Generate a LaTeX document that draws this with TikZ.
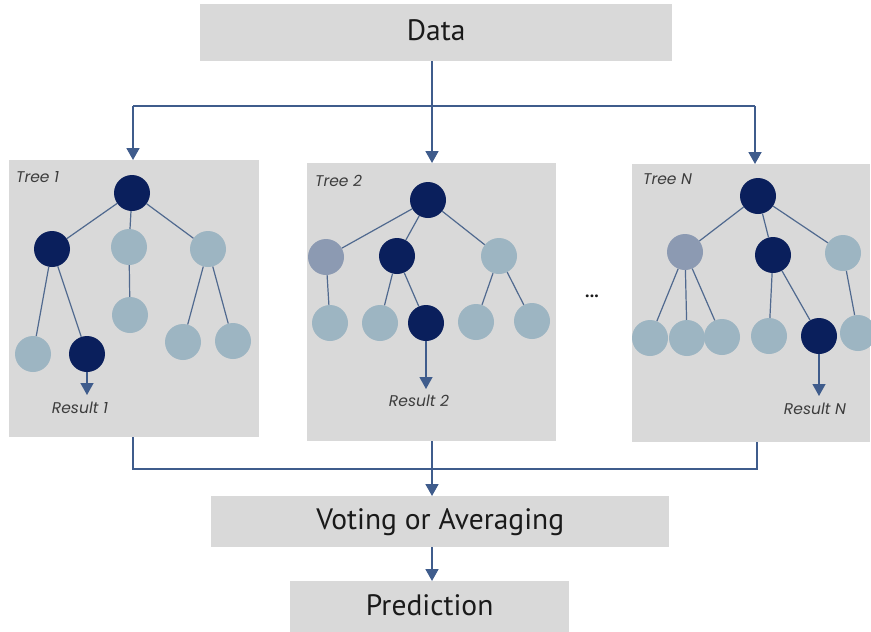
\documentclass[tikz,border=0pt]{standalone}
\usepackage{fontspec}
\setmainfont{PT Sans}
\newfontfamily\labelfont{Poppins}
\usetikzlibrary{arrows.meta}
\definecolor{boxgray}{HTML}{D9D9D9}
\definecolor{navy}{HTML}{0A1F5C}
\definecolor{leaf}{HTML}{9DB5C2}
\definecolor{midblue}{HTML}{8C9AB2}
\definecolor{linkblue}{HTML}{3F5C8C}
\definecolor{edgeblue}{HTML}{50698F}
\definecolor{txt}{HTML}{1A1A1A}

\begin{document}
\begin{tikzpicture}[x=1pt,y=-1pt,
  box/.style={fill=boxgray, draw=none, inner sep=0pt, text=txt, anchor=north west},
  conn/.style={draw=linkblue, line width=1.8pt, -{Triangle[width=13pt,length=12pt]}},
  bus/.style={draw=linkblue, line width=1.8pt},
  dk/.style={circle, fill=navy, minimum size=36pt, inner sep=0pt},
  lt/.style={circle, fill=leaf, minimum size=36pt, inner sep=0pt},
  md/.style={circle, fill=midblue, minimum size=36pt, inner sep=0pt},
  edge/.style={draw=edgeblue, line width=1.2pt},
  lbl/.style={font=\labelfont\itshape\fontsize{15.5}{17}\selectfont, text=txt!85, inner sep=0pt},
  big/.style={font=\fontsize{29.5}{32}\selectfont}
]
\useasboundingbox (0,0) rectangle (871,632);
\clip (0,0) rectangle (871,632);

% main boxes
\node[box, big, minimum width=472pt, minimum height=57pt] (data) at (200,4) {\raisebox{5pt}{Data}};
\node[box, big, minimum width=458pt, minimum height=51pt] (vote) at (211,496) {Voting or Averaging};
\node[box, big, minimum width=279pt, minimum height=51pt] (pred) at (290,581) {\raisebox{3pt}{Prediction}};

% tree panels
\node[box, minimum width=250pt, minimum height=277pt] (t1) at (9,160) {};
\node[box, minimum width=249pt, minimum height=278pt] (t2) at (307,163) {};
\node[box, minimum width=238pt, minimum height=278pt] (tN) at (632,164) {};

\node[lbl, anchor=west] (t1lbl) at (16,177) {Tree 1};
\node[lbl, anchor=west] (t2lbl) at (315,181) {Tree 2};
\node[lbl, anchor=west] (tNlbl) at (643,179) {Tree N};

% tree 1
\node[dk] (a0) at (132,193) {};
\node[dk] (a1) at (52,249) {};
\node[lt] (a2) at (129,247) {};
\node[lt] (a3) at (208,249) {};
\node[lt] (a4) at (33,354) {};
\node[dk] (a5) at (87,354) {};
\node[lt] (a6) at (130,315) {};
\node[lt] (a7) at (183,342) {};
\node[lt] (a8) at (233,341) {};
\foreach \p/\c in {a0/a1,a0/a2,a0/a3,a1/a4,a1/a5,a2/a6,a3/a7,a3/a8}
  \draw[edge] (\p) -- (\c);

% tree 2
\node[dk] (b0) at (428,200) {};
\node[md] (b1) at (326,257) {};
\node[dk] (b2) at (397,256) {};
\node[lt] (b3) at (499,256) {};
\node[lt] (b4) at (330,323) {};
\node[lt] (b5) at (380,323) {};
\node[dk] (b6) at (426,323) {};
\node[lt] (b7) at (476,322) {};
\node[lt] (b8) at (532,321) {};
\foreach \p/\c in {b0/b1,b0/b2,b0/b3,b1/b4,b2/b5,b2/b6,b3/b7,b3/b8}
  \draw[edge] (\p) -- (\c);

% tree N
\node[dk] (c0) at (758,196) {};
\node[md] (c1) at (685,252) {};
\node[dk] (c2) at (773,255) {};
\node[lt] (c3) at (843,253) {};
\node[lt] (c4) at (650,338) {};
\node[lt] (c5) at (687,338) {};
\node[lt] (c6) at (722,337) {};
\node[lt] (c7) at (769,336) {};
\node[dk] (c8) at (819,336) {};
\node[lt] (c9) at (858,333) {};
\foreach \p/\c in {c0/c1,c0/c2,c0/c3,c1/c4,c1/c5,c1/c6,c2/c7,c2/c8,c3/c9}
  \draw[edge] (\p) -- (\c);

% results
\coordinate (r1) at (87,395);
\coordinate (r2) at (426,389);
\coordinate (rN) at (819,396);
\draw[conn, line width=1.3pt] (a5) -- (r1);
\draw[conn, line width=1.3pt] (b6) -- (r2);
\draw[conn, line width=1.3pt] (c8) -- (rN);
\node[lbl] (res1) at (80,408) {Result 1};
\node[lbl] (res2) at (419,401) {Result 2};
\node[lbl] (resN) at (815,409) {Result N};

\node[font=\bfseries\fontsize{18}{20}\selectfont, text=txt] (dots) at (592,296) {...};

% data distribution
\coordinate (midx) at (432,0);
\coordinate (inL) at (133,160);
\coordinate (inR) at (755,164);
\coordinate (busTL) at (133,106);
\coordinate (busTR) at (755,106);
\draw[bus] (busTL) -- (busTR);
\draw[conn] (data.south -| midx) -- (t2.north -| midx);
\draw[conn] (busTL) -- (inL);
\draw[conn] (busTR) -- (inR);

% aggregation
\coordinate (out1) at (133,437);
\coordinate (outN) at (757,442);
\coordinate (busBL) at (133,469);
\coordinate (busBR) at (757,469);
\draw[bus] (out1) -- (busBL) -- (busBR) -- (outN);
\draw[conn] (t2.south -| midx) -- (vote.north -| midx);
\draw[conn] (vote.south -| midx) -- (pred.north -| midx);
\end{tikzpicture}
\end{document}
